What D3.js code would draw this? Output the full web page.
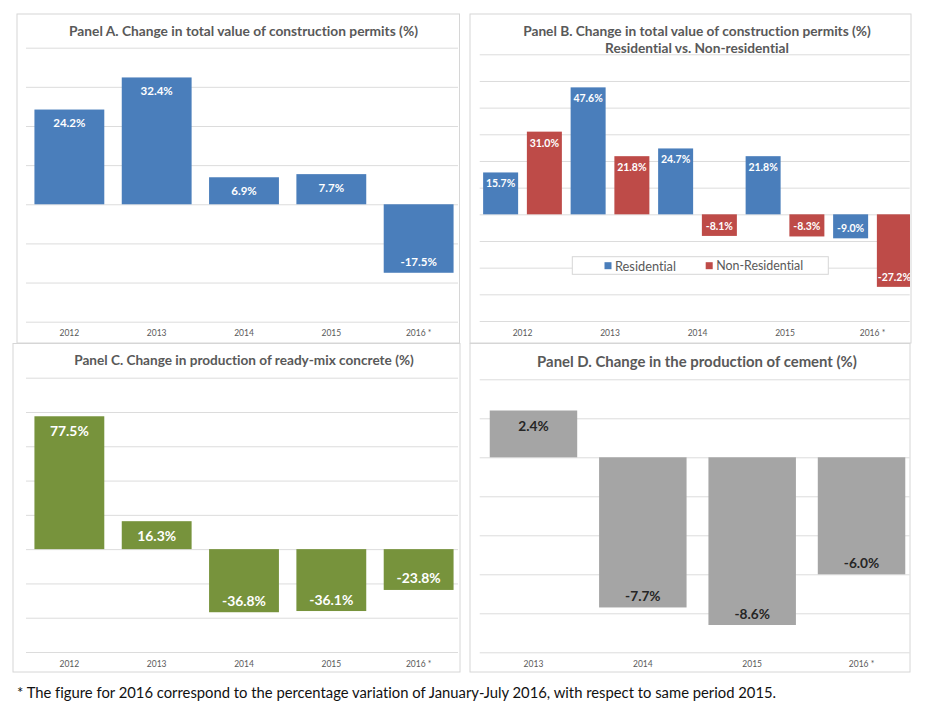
<!DOCTYPE html>
<html>
<head>
<meta charset="utf-8">
<script src="https://cdn.jsdelivr.net/npm/d3@7"></script>
<style>
  body { margin: 0; background: #fff; }
  text { font-family: Lato, "Open Sans", sans-serif; font-variant-ligatures: none; }
</style>
</head>
<body>
<script>

// ---- data ----
var years = ["2012", "2013", "2014", "2015", "2016 *"];
var yearsCement = ["2013", "2014", "2015", "2016 *"];

var permitsTotal = [24.2, 32.4, 6.9, 7.7, -17.5];
var permitsResidential = [15.7, 47.6, 24.7, 21.8, -9.0];
var permitsNonResidential = [31.0, 21.8, -8.1, -8.3, -27.2];
var concrete = [77.5, 16.3, -36.8, -36.1, -23.8];
var cement = [2.4, -7.7, -8.6, -6.0];

var seriesNames = ["Residential", "Non-Residential"];

var ticksA = [-30, -20, -10, 0, 10, 20, 30, 40];
var ticksB = [-40, -30, -20, -10, 0, 10, 20, 30, 40, 50, 60];
var ticksC = [-60, -40, -20, 0, 20, 40, 60, 80, 100];
var ticksD = [-10, -8, -6, -4, -2, 0, 2, 4];

var titleA = ["Panel A. Change in total value of construction permits (%)"];
var titleB = ["Panel B. Change in total value of construction permits (%)", "Residential vs. Non-residential"];
var titleC = ["Panel C. Change in production of ready-mix concrete (%)"];
var titleD = ["Panel D. Change in the production of cement (%)"];

var footnote = "* The figure for 2016 correspond to the percentage variation of January-July 2016, with respect to same period 2015.";

var blue = "#4a7ebb", red = "#be4b48", green = "#77933c", grey = "#a5a5a5";
var gridColor = "#dcdcdc", textGrey = "#595959";

var svg = d3.select("body").append("svg")
  .attr("width", 926)
  .attr("height", 701);

// plain hyphen for negatives, like the original
var locale = d3.formatLocale({ decimal: ".", thousands: ",", grouping: [3], currency: ["", ""], minus: "-" });
var pct = function(v) { return locale.format(".1f")(v) + "%"; };

// shrink/grow a text so it is as wide as w
function fit(sel, w) {
  sel.each(function() {
    var len = this.getComputedTextLength();
    var fs = parseFloat(d3.select(this).attr("font-size"));
    d3.select(this).attr("font-size", fs * w / len);
  });
}

function panel(o) {
  var g = svg.append("g");
  var b = o.box;

  g.append("rect")
    .attr("x", b[0]).attr("y", b[1])
    .attr("width", b[2] - b[0]).attr("height", b[3] - b[1])
    .attr("fill", "none")
    .attr("stroke", "#d6d6d6");

  // title
  o.title.forEach(function(t, i) {
    g.append("text")
      .attr("x", o.titleX).attr("y", o.titleY + i * 17.3)
      .attr("text-anchor", "middle")
      .attr("dominant-baseline", "central")
      .attr("font-size", 13)
      .attr("font-weight", "bold")
      .attr("fill", textGrey)
      .text(t)
      .call(fit, o.titleW[i]);
  });

  var y = d3.scaleLinear().domain(o.yDomain).range(o.yRange);

  // gridlines
  var grid = g.append("g")
    .attr("transform", "translate(" + o.gridX[0] + ",0)")
    .call(d3.axisRight(y).tickValues(o.ticks).tickSize(o.gridX[1] - o.gridX[0]).tickFormat(""));
  grid.select(".domain").remove();
  grid.selectAll("line").attr("stroke", gridColor);

  var x0 = d3.scaleBand().domain(o.cats).range(o.xRange)
    .paddingInner(o.series.length > 1 ? 0.1 : 0.2)
    .paddingOuter(o.series.length > 1 ? 0.05 : 0.1);
  var x1 = d3.scaleBand().domain(o.series.map(function(s) { return s.name; }))
    .range([0, x0.bandwidth()]).paddingInner(o.series.length > 1 ? 0.2 : 0);

  var clipId = "clip" + o.id;
  g.append("clipPath").attr("id", clipId)
    .append("rect")
    .attr("x", b[0]).attr("y", b[1])
    .attr("width", b[2] - b[0] - 1).attr("height", b[3] - b[1]);

  var plot = g.append("g").attr("clip-path", "url(#" + clipId + ")");

  o.series.forEach(function(s) {
    var data = s.values.map(function(v, i) { return { cat: o.cats[i], v: v }; });
    var bx = function(d) { return x0(d.cat) + x1(s.name); };

    plot.selectAll(null)
      .data(data)
      .enter()
      .append("rect")
      .attr("x", bx)
      .attr("y", function(d) { return Math.min(y(d.v), y(0)); })
      .attr("width", x1.bandwidth())
      .attr("height", function(d) { return Math.abs(y(d.v) - y(0)); })
      .attr("fill", s.color);

    plot.selectAll(null)
      .data(data)
      .enter()
      .append("text")
      .attr("x", function(d) { return bx(d) + x1.bandwidth() / 2; })
      .attr("y", function(d) { return d.v >= 0 ? y(d.v) + o.posOff : y(d.v) - o.negOff; })
      .attr("text-anchor", "middle")
      .attr("dominant-baseline", "central")
      .attr("font-size", o.labelSize)
      .attr("font-weight", "bold")
      .attr("fill", o.labelColor)
      .text(function(d) { return pct(d.v); });
  });

  // category axis
  var ax = g.append("g")
    .attr("transform", "translate(0," + (o.catY - 6) + ")")
    .call(d3.axisBottom(x0).tickSize(0));
  ax.select(".domain").remove();
  ax.selectAll("text")
    .attr("font-family", "Lato, sans-serif")
    .attr("font-size", 8.5)
    .attr("fill", textGrey);

  return g;
}

panel({
  id: "A", box: [17, 14, 459.5, 343],
  title: titleA, titleX: 243.5, titleY: 30, titleW: [349],
  cats: years, xRange: [25.7, 462.3],
  yDomain: [-30, 40], yRange: [321.7, 47.7], ticks: ticksA, gridX: [26, 458],
  series: [{ name: "Total", values: permitsTotal, color: blue }],
  labelSize: 11.5, labelColor: "#fff", posOff: 13, negOff: 11, catY: 333
});

var pB = panel({
  id: "B", box: [470, 14, 911, 343],
  title: titleB, titleX: 697, titleY: 30, titleW: [348, 184],
  cats: years, xRange: [478.75, 916.25],
  yDomain: [-40, 60], yRange: [321, 54.3], ticks: ticksB, gridX: [479.7, 909.7],
  series: [
    { name: seriesNames[0], values: permitsResidential, color: blue },
    { name: seriesNames[1], values: permitsNonResidential, color: red }
  ],
  labelSize: 10.5, labelColor: "#fff", posOff: 11, negOff: 10, catY: 333
});

panel({
  id: "C", box: [13, 343.5, 460, 672],
  title: titleC, titleX: 244, titleY: 360, titleW: [340],
  cats: years, xRange: [25.7, 462.3],
  yDomain: [-60, 100], yRange: [652, 377.7], ticks: ticksC, gridX: [26, 458],
  series: [{ name: "Concrete", values: concrete, color: green }],
  labelSize: 13.9, labelColor: "#fff", posOff: 14, negOff: 12, catY: 664
});

panel({
  id: "D", box: [470, 343.5, 910, 672],
  title: titleD, titleX: 697, titleY: 361, titleW: [320],
  cats: yearsCement, xRange: [478.8, 916.2],
  yDomain: [-10, 4], yRange: [652.3, 379.3], ticks: ticksD, gridX: [479.7, 909.7],
  series: [{ name: "Cement", values: cement, color: grey }],
  labelSize: 13.7, labelColor: "#262626", posOff: 15, negOff: 12, catY: 664
});

// legend of panel B
var legend = pB.append("g");
legend.append("rect")
  .attr("x", 572.3).attr("y", 256.7)
  .attr("width", 256).attr("height", 17.6)
  .attr("fill", "#fff")
  .attr("stroke", "#d6d6d6");

var legendX = [604.5, 705.7];
var legendW = [61, 87];
seriesNames.forEach(function(n, i) {
  legend.append("rect")
    .attr("x", legendX[i]).attr("y", 262.2)
    .attr("width", 7).attr("height", 7)
    .attr("fill", i === 0 ? blue : red);
  legend.append("text")
    .attr("x", legendX[i] + 10.5).attr("y", 265.8)
    .attr("dominant-baseline", "central")
    .attr("font-size", 12)
    .attr("fill", textGrey)
    .text(n)
    .call(fit, legendW[i]);
});

svg.append("text")
  .attr("x", 17).attr("y", 692)
  .attr("dominant-baseline", "central")
  .attr("font-size", 14)
  .attr("fill", "#111")
  .text(footnote)
  .call(fit, 760);

</script>
</body>
</html>
